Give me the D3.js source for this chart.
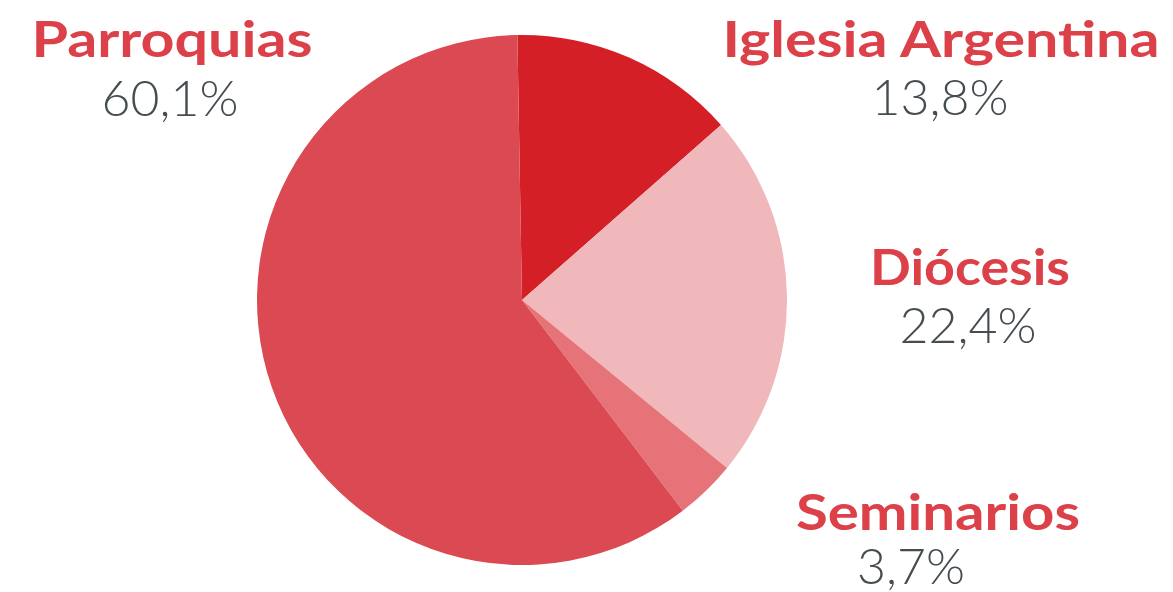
<!DOCTYPE html>
<html lang="es">
<head>
<meta charset="utf-8">
<title>Pie</title>
<script src="https://cdn.jsdelivr.net/npm/d3@7"></script>
<style>
	html, body { margin: 0; padding: 0; background: #fff; }
	svg { display: block; }
	.name { font-family: Lato, sans-serif; font-weight: 700; fill: #dc4048; }
	.pct { font-family: Lato, sans-serif; font-weight: 300; fill: #454d51; }
</style>
</head>
<body>
<script>
	// data
	const categories = ["Iglesia Argentina", "Diócesis", "Seminarios", "Parroquias"];
	const values = [13.8, 22.4, 3.7, 60.1];
	const percentLabels = ["13,8%", "22,4%", "3,7%", "60,1%"];
	const colors = ["#d41f27", "#f0b8bb", "#e57378", "#db4a52"];

	const width = 1173, height = 592;
	const cx = 522, cy = 300, radius = 265;

	// label anchor points (name baseline, pct baseline)
	const labelPos = [
		{ x: 941, y: 57, px: 940, py: 115, w: 437 },
		{ x: 970, y: 285, px: 968, py: 343, w: 200 },
		{ x: 938, y: 530, px: 911, py: 584, w: 284 },
		{ x: 172, y: 57, px: 170, py: 116, w: 281 }
	];

	const svg = d3.select("body").append("svg")
		.attr("width", width)
		.attr("height", height);

	const pie = d3.pie()
		.sort(null)
		.startAngle(-1 * Math.PI / 180)
		.endAngle(359 * Math.PI / 180);

	const arc = d3.arc().innerRadius(0).outerRadius(radius);

	svg.append("g")
		.attr("transform", `translate(${cx},${cy})`)
		.selectAll("path")
		.data(pie(values))
		.join("path")
		.attr("d", arc)
		.attr("fill", (d, i) => colors[i]);

	const labels = svg.append("g").selectAll("g")
		.data(categories)
		.join("g");

	labels.append("text")
		.attr("class", "name")
		.attr("x", (d, i) => labelPos[i].x)
		.attr("y", (d, i) => labelPos[i].y)
		.attr("text-anchor", "middle")
		.attr("font-size", 50)
		.attr("textLength", (d, i) => labelPos[i].w)
		.attr("lengthAdjust", "spacingAndGlyphs")
		.text(d => d);

	labels.append("text")
		.attr("class", "pct")
		.attr("x", (d, i) => labelPos[i].px)
		.attr("y", (d, i) => labelPos[i].py)
		.attr("text-anchor", "middle")
		.attr("font-size", 50)
		.text((d, i) => percentLabels[i]);
</script>
</body>
</html>
